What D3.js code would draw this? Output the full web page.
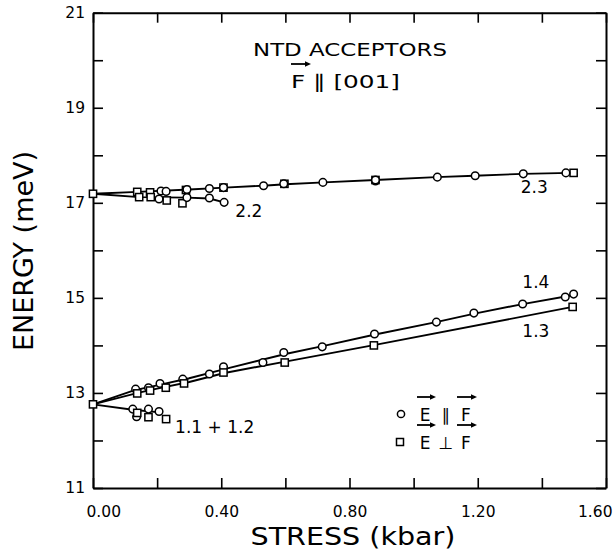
<!DOCTYPE html>
<html><head><meta charset="utf-8">
<script src="https://cdn.jsdelivr.net/npm/d3@7"></script>
<style>body{margin:0;background:#fff}svg{display:block}</style>
</head><body><svg id="c" width="614" height="550"></svg>
<script>
// ---- tick values & labels ----
const xTicks = [0, 0.2, 0.4, 0.6, 0.8, 1.0, 1.2, 1.4, 1.6];
const xTickLabels = ["0.00", "", "0.40", "", "0.80", "", "1.20", "", "1.60"];
const yTicks = [11, 12, 13, 14, 15, 16, 17, 18, 19, 20, 21];
const yTickLabels = ["11", "", "13", "", "15", "", "17", "", "19", "", "21"];

// ---- measured points: [stress kbar, energy meV] ----
// E || F (circles)
const par23 = [[0.212,17.25],[0.228,17.24],[0.293,17.28],[0.363,17.30],[0.407,17.32],[0.532,17.36],[0.595,17.40],[0.717,17.43],[0.881,17.46],[0.881,17.48],[1.074,17.54],[1.192,17.57],[1.342,17.61],[1.475,17.63]];
const par22 = [[0.206,17.08],[0.293,17.11],[0.363,17.10],[0.409,17.01]];
const par14 = [[0.133,13.08],[0.173,13.11],[0.209,13.20],[0.280,13.29],[0.363,13.40],[0.407,13.55],[0.530,13.64],[0.595,13.85],[0.715,13.97],[0.878,14.24],[1.071,14.49],[1.188,14.68],[1.340,14.87],[1.473,15.02],[1.499,15.08]];
const par11 = [[0.124,12.66],[0.136,12.50],[0.173,12.66],[0.206,12.61]];
// E perp F (squares)
const perp23 = [[0,17.19],[0.138,17.23],[0.178,17.22],[0.290,17.27],[0.407,17.32],[0.597,17.40],[0.881,17.48],[1.499,17.63]];
const perp22 = [[0.144,17.12],[0.180,17.12],[0.230,17.05],[0.279,16.99]];
const perp13 = [[0,12.76],[0.138,12.99],[0.178,13.05],[0.227,13.11],[0.284,13.20],[0.407,13.43],[0.598,13.64],[0.876,14.00],[1.496,14.81]];
const perp11 = [[0.138,12.58],[0.173,12.49],[0.228,12.45]];

// ---- drawn curves ----
const line23 = [[0,17.19],[0.14,17.23],[0.30,17.28],[0.41,17.32],[0.53,17.36],[0.60,17.39],[0.72,17.43],[0.88,17.48],[1.07,17.54],[1.19,17.57],[1.34,17.61],[1.49,17.63]];
const line22 = [[0,17.19],[0.144,17.12],[0.293,17.11],[0.363,17.09],[0.409,17.01]];
const line14 = [[0,12.76],[0.13,13.06],[0.20,13.16],[0.30,13.31],[0.41,13.50],[0.60,13.82],[0.72,13.99],[0.88,14.23],[1.07,14.49],[1.19,14.67],[1.34,14.87],[1.50,15.06]];
const line13 = [[0,12.76],[0.14,13.00],[0.20,13.09],[0.30,13.23],[0.41,13.42],[0.60,13.66],[0.88,14.01],[1.496,14.81]];
const line11 = [[0,12.76],[0.13,12.64],[0.21,12.59]];

const curveLabels = [
  {t:"2.3", s:1.334, e:17.21},
  {t:"2.2", s:0.444, e:16.71},
  {t:"1.4", s:1.339, e:15.21},
  {t:"1.3", s:1.339, e:14.18},
  {t:"1.1 + 1.2", s:0.256, e:12.16}
];

const FONT = "DejaVu Sans, Liberation Sans, sans-serif";
const svg = d3.select("#c");
svg.append("rect").attr("width",614).attr("height",550).attr("fill","#fff");

const x = d3.scaleLinear().domain([0,1.6]).range([93,606]);
const y = d3.scaleLinear().domain([11,21]).range([488,12.7]);

function styleAxis(g){
  g.selectAll(".domain").attr("stroke","#000").attr("stroke-width",2);
  g.selectAll(".tick line").attr("stroke","#000").attr("stroke-width",1.6);
  g.selectAll("text").attr("font-family",FONT).attr("font-size",15.5).attr("fill","#000");
}

// bottom
const gb = svg.append("g").attr("transform",`translate(0,${y(11)})`)
  .call(d3.axisBottom(x).tickValues(xTicks).tickSizeInner(-10).tickSizeOuter(0).tickPadding(18)
    .tickFormat((d,i)=>xTickLabels[i]));
styleAxis(gb);
gb.selectAll(".tick text").attr("text-anchor",(d,i)=> i===0?"start":(i===xTicks.length-1?"end":"middle"))
  .attr("dx",(d,i)=> i===0?-7:(i===xTicks.length-1?6:0));
// top
const gt = svg.append("g").attr("transform",`translate(0,${y(21)})`)
  .call(d3.axisTop(x).tickValues(xTicks).tickSizeInner(-10).tickSizeOuter(0).tickFormat(""));
styleAxis(gt);
// left
const gl = svg.append("g").attr("transform",`translate(${x(0)},0)`)
  .call(d3.axisLeft(y).tickValues(yTicks).tickSizeInner(-10).tickSizeOuter(0).tickPadding(8)
    .tickFormat((d,i)=>yTickLabels[i]));
styleAxis(gl);
// right
const gr = svg.append("g").attr("transform",`translate(${x(1.6)},0)`)
  .call(d3.axisRight(y).tickValues(yTicks).tickSizeInner(-10).tickSizeOuter(0).tickFormat(""));
styleAxis(gr);

// lines
const lineGen = d3.line().x(d=>x(d[0])).y(d=>y(d[1]));
[line23,line22,line14,line13,line11].forEach(L=>{
  svg.append("path").datum(L).attr("d",lineGen).attr("fill","none")
    .attr("stroke","#000").attr("stroke-width",1.9).attr("stroke-linejoin","round");
});

// markers
const R = 3.8, SQ = 7.2;
function circles(data){
  svg.append("g").selectAll("circle").data(data).join("circle")
    .attr("cx",d=>x(d[0])).attr("cy",d=>y(d[1])).attr("r",R)
    .attr("fill","#fff").attr("stroke","#000").attr("stroke-width",1.5);
}
function squares(data){
  svg.append("g").selectAll("rect").data(data).join("rect")
    .attr("x",d=>x(d[0])-SQ/2).attr("y",d=>y(d[1])-SQ/2).attr("width",SQ).attr("height",SQ)
    .attr("fill","#fff").attr("stroke","#000").attr("stroke-width",1.5);
}
squares(perp23); circles(par23);
squares(perp22); circles(par22);
circles(par14); squares(perp13);
circles(par11); squares(perp11);

// curve labels
svg.append("g").selectAll("text").data(curveLabels).join("text")
  .attr("x",d=>x(d.s)).attr("y",d=>y(d.e)).attr("text-anchor","start").attr("fill","#000")
  .attr("font-family",FONT).attr("font-size",17).text(d=>d.t);

// arrow helper
function arrow(x1,x2,yy){
  svg.append("line").attr("x1",x1).attr("x2",x2-2).attr("y1",yy).attr("y2",yy)
    .attr("stroke","#000").attr("stroke-width",1.8);
  svg.append("path").attr("d",`M${x2},${yy} L${x2-6},${yy-2.8} L${x2-6},${yy+2.8} Z`).attr("fill","#000");
}

// title
svg.append("text").attr("x",350).attr("y",56).attr("text-anchor","middle").attr("fill","#000")
  .attr("font-family",FONT).attr("font-size",18.5).attr("textLength",194).attr("lengthAdjust","spacingAndGlyphs")
  .text("NTD ACCEPTORS");
svg.append("text").attr("x",291).attr("y",88).attr("text-anchor","start").attr("fill","#000")
  .attr("font-family",FONT).attr("font-size",18.5).attr("textLength",109).attr("lengthAdjust","spacingAndGlyphs")
  .text("F ∥ [001]");
arrow(291,311,64);

// legend
const legendRows = [{sym:"circle", rel:"∥", yy:414},{sym:"square", rel:"⊥", yy:442}];
legendRows.forEach(r=>{
  if(r.sym==="circle") svg.append("circle").attr("cx",401).attr("cy",r.yy).attr("r",3.6)
      .attr("fill","#fff").attr("stroke","#000").attr("stroke-width",1.5);
  else svg.append("rect").attr("x",396.5).attr("y",r.yy-3.5).attr("width",7).attr("height",7)
      .attr("fill","#fff").attr("stroke","#000").attr("stroke-width",1.5);
  const t = (tx,xx)=>svg.append("text").attr("x",xx).attr("y",r.yy+6.5).attr("text-anchor","middle")
      .attr("fill","#000").attr("font-family",FONT).attr("font-size",17).text(tx);
  t("E",425); t(r.rel,446); t("F",466);
  arrow(417,436,r.yy-17);
  arrow(457,477,r.yy-17);
});

// axis titles
svg.append("text").attr("x",353).attr("y",545).attr("text-anchor","middle").attr("fill","#000")
  .attr("font-family",FONT).attr("font-size",25).attr("textLength",205).attr("lengthAdjust","spacingAndGlyphs")
  .text("STRESS (kbar)");
svg.append("text").attr("transform","translate(33,251) rotate(-90)").attr("text-anchor","middle").attr("fill","#000")
  .attr("font-family",FONT).attr("font-size",26).attr("textLength",200).attr("lengthAdjust","spacingAndGlyphs")
  .text("ENERGY (meV)");
</script></body></html>
